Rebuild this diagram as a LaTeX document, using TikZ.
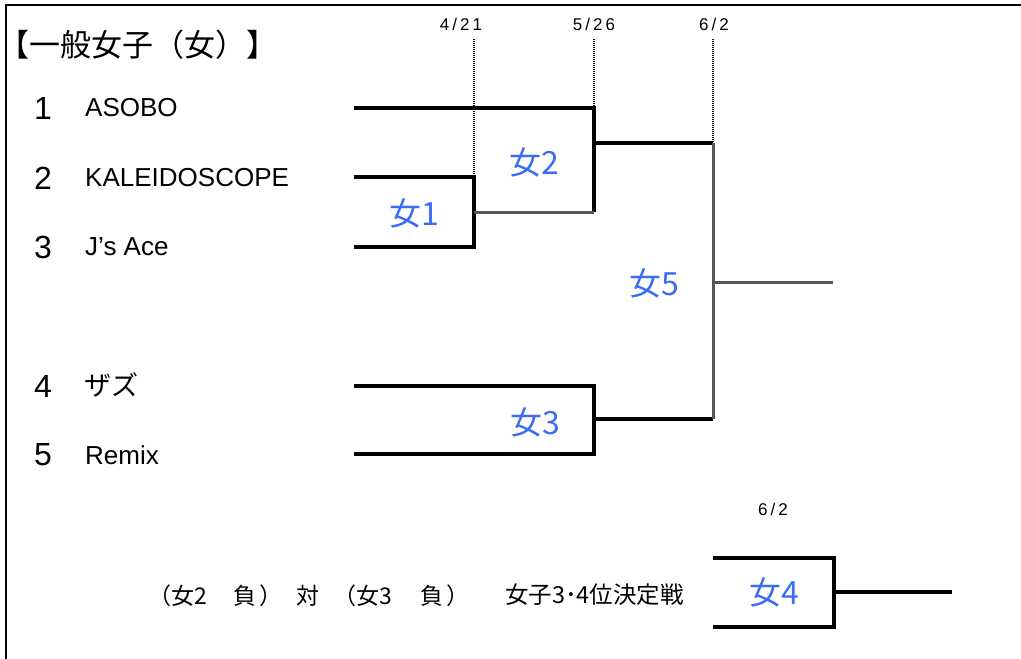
\documentclass[tikz,border=0pt]{standalone}
\usepackage{fontspec}
\setmainfont{Liberation Sans}
\newfontfamily\jp{Noto Sans CJK JP}
\definecolor{labblue}{RGB}{59,108,245}
\definecolor{dgray}{RGB}{85,85,85}
\begin{document}
\begin{tikzpicture}[x=1pt,y=-1pt,
  blk/.style={line width=3.4pt},
  gry/.style={line width=3pt, draw=dgray},
  dots/.style={line width=2.4pt, dash pattern=on 1.3pt off 0.7pt},
  frame/.style={line width=1.6pt},
  num/.style={font=\fontsize{32}{32}\selectfont, inner sep=0pt},
  team/.style={font=\fontsize{26}{26}\selectfont, anchor=west, inner sep=0pt},
  lab/.style={font=\jp\fontsize{32}{32}\selectfont, text=labblue, inner sep=0pt},
  datelab/.style={font=\fontsize{17}{17}\selectfont, inner sep=0pt},
  jptext/.style={font=\jp\fontsize{#1}{#1}\selectfont, inner sep=0pt}]
\useasboundingbox (0,0) rectangle (1021,659);
% frame
\coordinate (fa) at (6,659);
\coordinate (fb) at (6,5);
\coordinate (fc) at (1021,5);
\draw[frame] (fa) -- (fb) -- (fc);
% title
\node[jptext=31, anchor=west] (title) at (-1.5,45) {【一般女子（女）】};
% dates
\node[datelab] (dt1) at (461,24) {4\kern3pt/\kern3pt2\kern3pt1};
\node[datelab] (dt2) at (594,24) {5\kern3pt/\kern3pt2\kern3pt6};
\node[datelab] (dt3) at (714,24) {6\kern3pt/\kern3pt2};
\node[datelab] (dt4) at (773,509) {6\kern3pt/\kern3pt2};
% numbers and teams
\node[num] (n1) at (43,108) {1};
\node[num] (n2) at (43,178) {2};
\node[num] (n3) at (43,247) {3};
\node[num] (n4) at (43,386) {4};
\node[num] (n5) at (43,455) {5};
\node[team] (s1) at (85,108) {ASOBO};
\node[team] (s2) at (85,178) {KALEIDOSCOPE};
\node[team] (s3) at (85,247) {J's Ace};
\node[team, font=\jp\fontsize{27}{27}\selectfont] (s4) at (84,385) {ザズ};
\node[team] (s5) at (85,455) {Remix};
% bracket coordinates
\coordinate (t1) at (354,108);
\coordinate (t2) at (354,177);
\coordinate (t3) at (354,247);
\coordinate (t4) at (354,386);
\coordinate (t5) at (354,454);
\coordinate (m1top) at (474,177);
\coordinate (m1bot) at (474,247);
\coordinate (m1out) at (474,212);
\coordinate (m2top) at (594,108);
\coordinate (m2bot) at (594,212);
\coordinate (m2out) at (594,143);
\coordinate (m3top) at (594,386);
\coordinate (m3bot) at (594,454);
\coordinate (m3out) at (594,419);
\coordinate (m5top) at (713,143);
\coordinate (m5bot) at (713,419);
\coordinate (m5out) at (713,282);
\coordinate (fin) at (833,282);
\coordinate (d1) at (474,39);
\coordinate (d2) at (594,39);
\coordinate (d3) at (713,39);
\coordinate (q1) at (713,558);
\coordinate (q2) at (834,558);
\coordinate (q3) at (834,627);
\coordinate (q4) at (713,627);
\coordinate (q4out) at (834,592);
\coordinate (q4end) at (952,592);
% dotted date guides
\draw[dots] (d1) -- (m1top);
\draw[dots] (d2) -- (m2top);
\draw[dots] (d3) -- (m5top);
% bracket lines
\draw[blk] (t2) -- (m1top) -- (m1bot) -- (t3);
\draw[blk] (t1) -- (m2top) -- (m2bot);
\draw[gry] (m1out) -- (m2bot);
\draw[blk] (m2out) -- (m5top);
\draw[blk] (t4) -- (m3top) -- (m3bot) -- (t5);
\draw[blk] (m3out) -- (m5bot);
\draw[gry] (m5top) -- (m5bot);
\draw[gry] (m5out) -- (fin);
\draw[blk] (q1) -- (q2) -- (q3) -- (q4);
\draw[blk] (q4out) -- (q4end);
% match labels
\node[lab] (g1) at (414,213) {女1};
\node[lab] (g2) at (534,162) {女2};
\node[lab] (g5) at (654,283) {女5};
\node[lab] (g3) at (535,422) {女3};
\node[lab] (g4) at (774,592) {女4};
% bottom texts
\node[jptext=23, anchor=west] (vs) at (148,596) {（女2\kern27pt 負\kern2.5pt）\kern14.5pt 対\kern14pt （女3\kern28pt 負\kern2.5pt）};
\node[jptext=23.5] (rank) at (594.5,595) {女子3･4位決定戦};
\end{tikzpicture}
\end{document}
